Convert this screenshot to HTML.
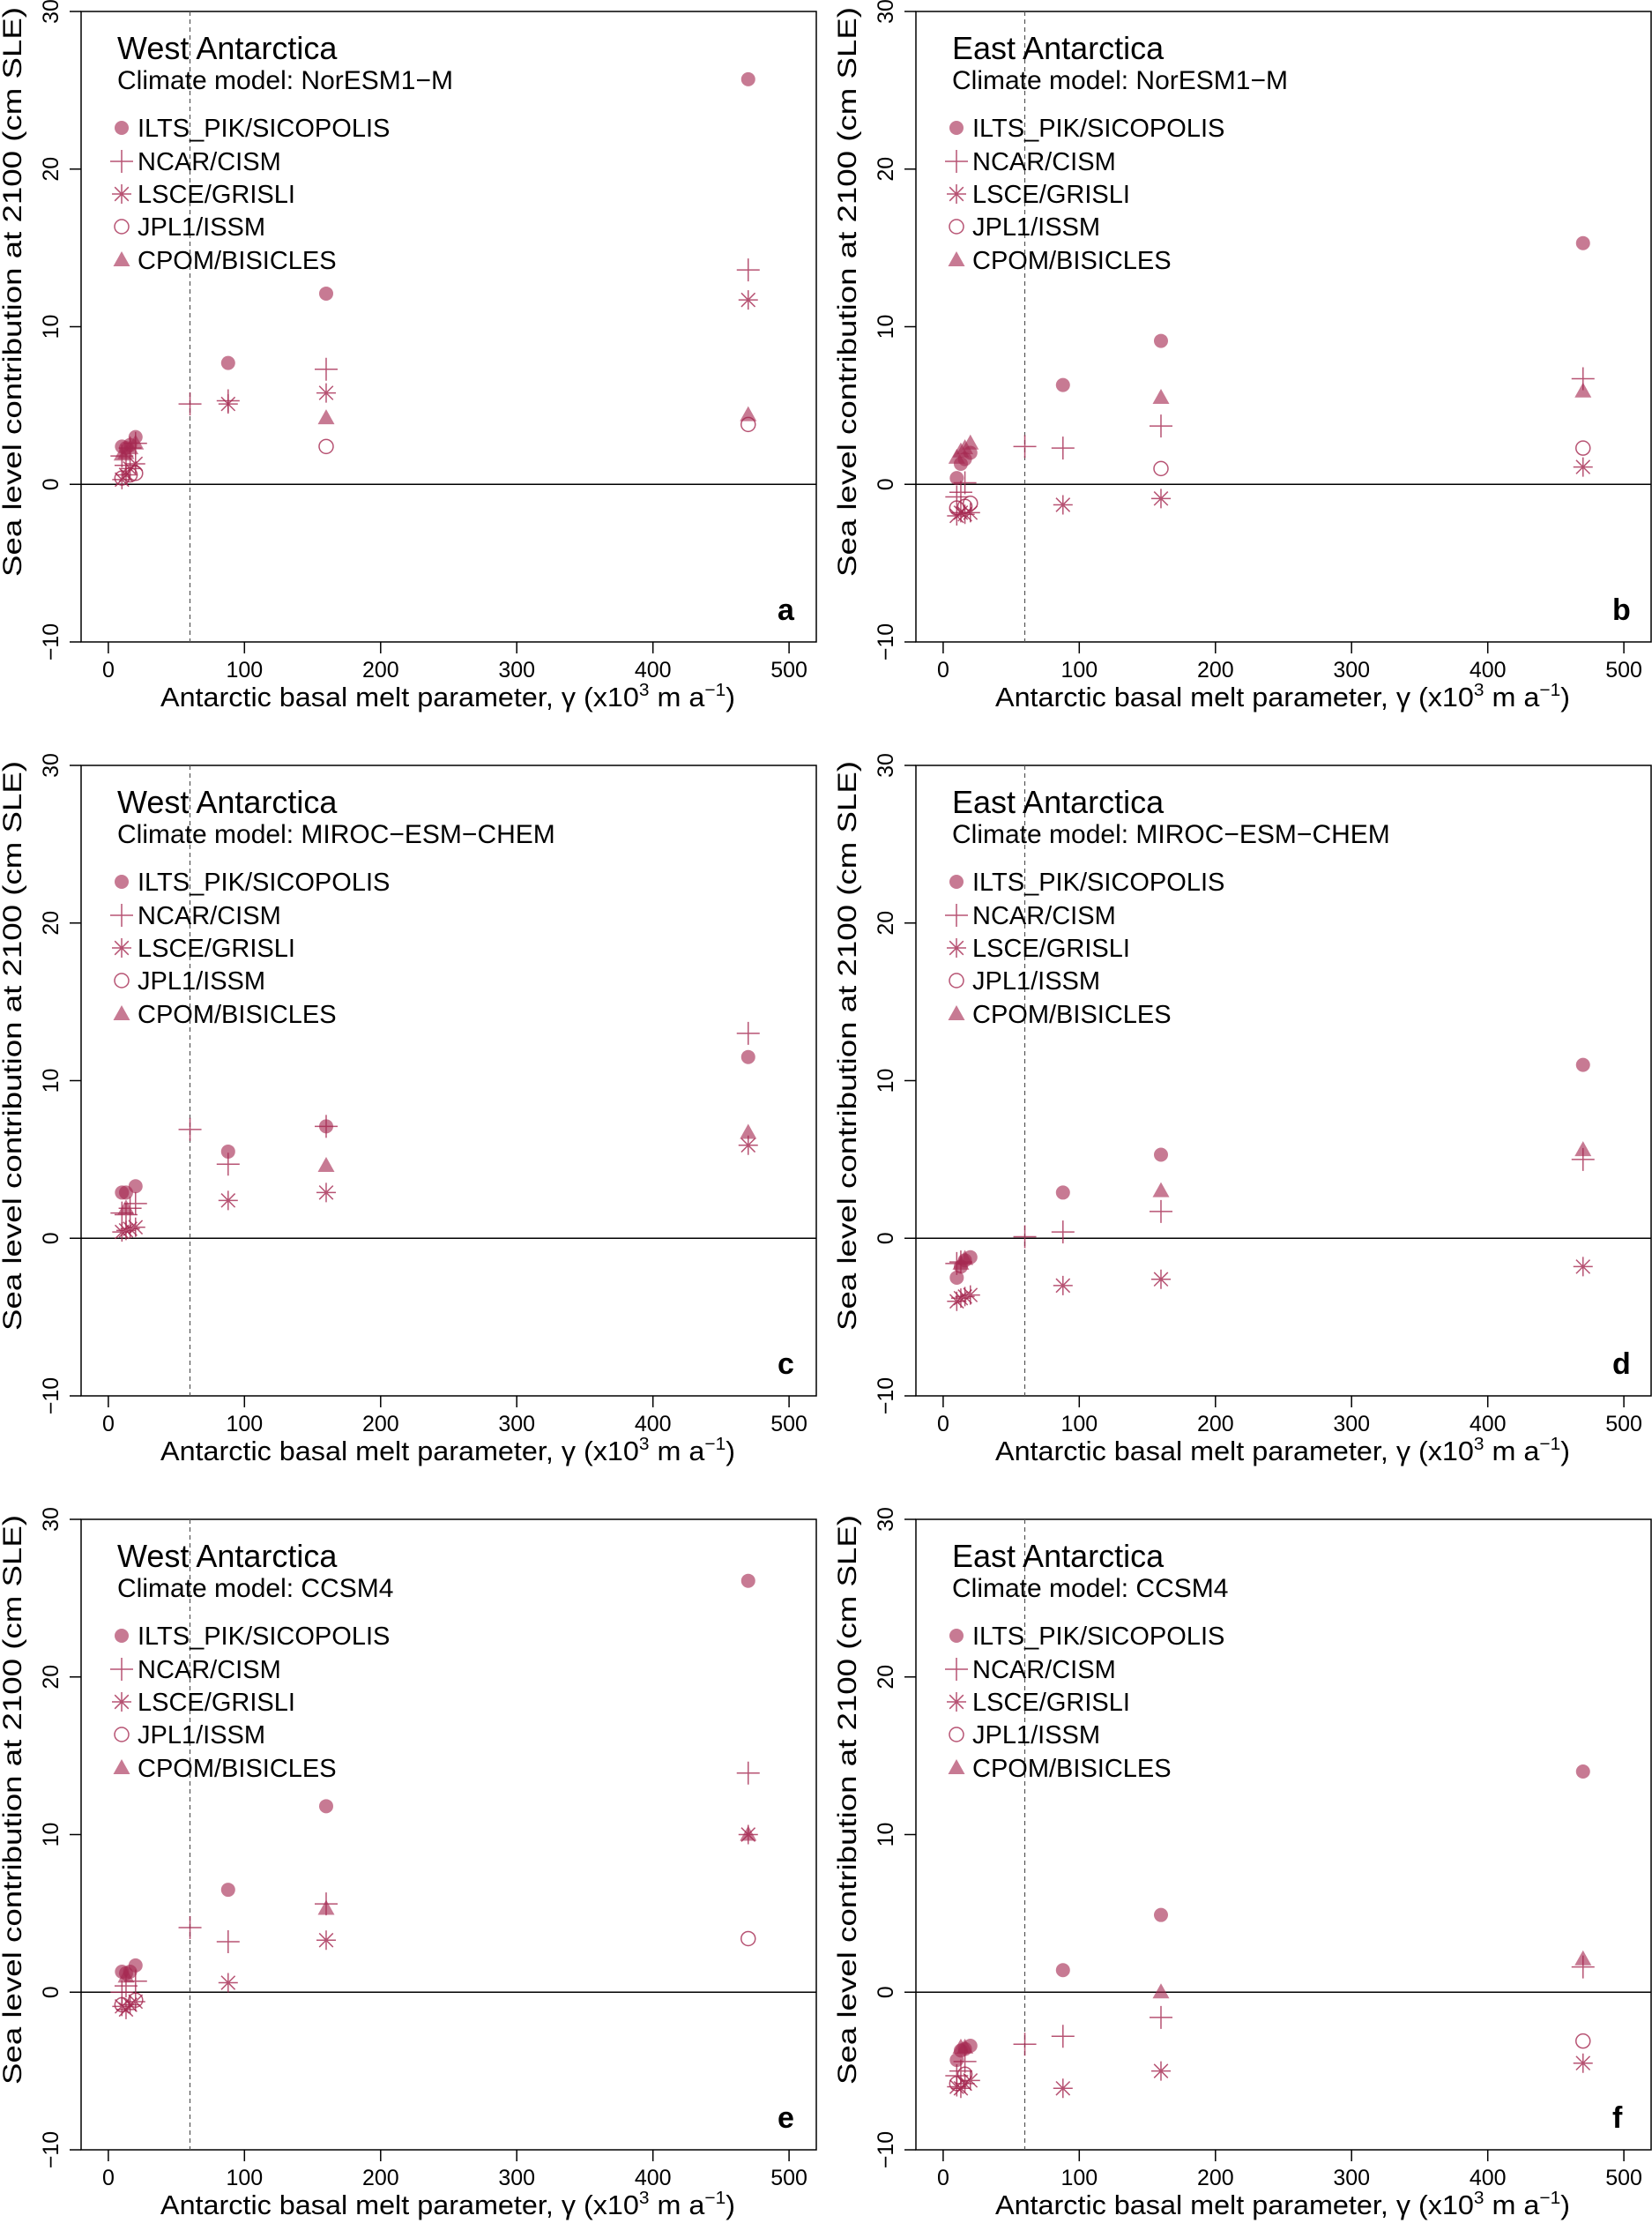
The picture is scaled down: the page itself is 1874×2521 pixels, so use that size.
<!DOCTYPE html>
<html><head><meta charset="utf-8"><style>
html,body{margin:0;padding:0;background:#fff}
svg{display:block}
text{font-family:"Liberation Sans",sans-serif;fill:#000}
</style></head><body>
<svg id="s" width="1874" height="2521" viewBox="0 0 1874 2521" xmlns="http://www.w3.org/2000/svg">
<defs>
<g id="axes">
<rect x="0" y="0" width="834" height="715" fill="none" stroke="#000" stroke-width="1.5"/>
<line x1="0" y1="536.25" x2="834" y2="536.25" stroke="#000" stroke-width="1.5"/>
<line x1="123.5" y1="0" x2="123.5" y2="715" stroke="#555" stroke-width="1.2" stroke-dasharray="5,4"/>
<path d="M30.9 715v13M185.3 715v13M339.8 715v13M494.2 715v13M648.7 715v13M803.1 715v13M0 0h-13M0 178.75h-13M0 357.5h-13M0 536.25h-13M0 715h-13" stroke="#000" stroke-width="1.5"/>
<g font-size="25" text-anchor="middle">
<text x="30.9" y="755">0</text><text x="185.3" y="755">100</text><text x="339.8" y="755">200</text><text x="494.2" y="755">300</text><text x="648.7" y="755">400</text><text x="803.1" y="755">500</text>
<text transform="translate(-26,0) rotate(-90)">30</text>
<text transform="translate(-26,178.75) rotate(-90)">20</text>
<text transform="translate(-26,357.5) rotate(-90)">10</text>
<text transform="translate(-26,536.25) rotate(-90)">0</text>
<text transform="translate(-26,715) rotate(-90)">−10</text>
<text transform="translate(-68,318) rotate(-90)" font-size="30" textLength="646" lengthAdjust="spacingAndGlyphs">Sea level contribution at 2100 (cm SLE)</text>
</g>
<text x="90" y="788" font-size="31" textLength="652" lengthAdjust="spacingAndGlyphs">Antarctic basal melt parameter, γ (x10<tspan dy="-12" font-size="20">3</tspan><tspan dy="12"> m a</tspan><tspan dy="-12" font-size="20">−1</tspan><tspan dy="12">)</tspan></text>
<g font-size="29">
<text x="64" y="142">ILTS_PIK/SICOPOLIS</text>
<text x="64" y="180">NCAR/CISM</text>
<text x="64" y="217">LSCE/GRISLI</text>
<text x="64" y="254">JPL1/ISSM</text>
<text x="64" y="292">CPOM/BISICLES</text>
</g>
</g>
</defs>
<g transform="translate(92,13)"><use href="#axes"/>
<text x="41" y="54" font-size="36">West Antarctica</text>
<text x="41" y="88" font-size="30">Climate model: NorESM1−M</text>
<text x="790" y="690" font-size="34" font-weight="bold">a</text></g>
<g transform="translate(1039,13)"><use href="#axes"/>
<text x="41" y="54" font-size="36">East Antarctica</text>
<text x="41" y="88" font-size="30">Climate model: NorESM1−M</text>
<text x="790" y="690" font-size="34" font-weight="bold">b</text></g>
<g transform="translate(92,868)"><use href="#axes"/>
<text x="41" y="54" font-size="36">West Antarctica</text>
<text x="41" y="88" font-size="30">Climate model: MIROC−ESM−CHEM</text>
<text x="790" y="690" font-size="34" font-weight="bold">c</text></g>
<g transform="translate(1039,868)"><use href="#axes"/>
<text x="41" y="54" font-size="36">East Antarctica</text>
<text x="41" y="88" font-size="30">Climate model: MIROC−ESM−CHEM</text>
<text x="790" y="690" font-size="34" font-weight="bold">d</text></g>
<g transform="translate(92,1723)"><use href="#axes"/>
<text x="41" y="54" font-size="36">West Antarctica</text>
<text x="41" y="88" font-size="30">Climate model: CCSM4</text>
<text x="790" y="690" font-size="34" font-weight="bold">e</text></g>
<g transform="translate(1039,1723)"><use href="#axes"/>
<text x="41" y="54" font-size="36">East Antarctica</text>
<text x="41" y="88" font-size="30">Climate model: CCSM4</text>
<text x="790" y="690" font-size="34" font-weight="bold">f</text></g>
<g id="marks"></g>
</svg>
<script>
var P=[[92,13],[1039,13],[92,868],[1039,868],[92,1723],[1039,1723]];
var D=[
{c:[[10,2.4],[13,2.3],[16,2.5],[20,3.0],[88,7.7],[160,12.1],[470,25.7]],p:[[10,1.8],[13,1.2],[16,2.3],[20,2.6],[60,5.1],[88,5.3],[160,7.3],[470,13.6]],s:[[10,0.3],[13,0.6],[16,1.0],[20,1.3],[88,5.1],[160,5.8],[470,11.7]],o:[[10,0.4],[16,0.6],[20,0.7],[160,2.4],[470,3.8]],t:[[10,1.9],[13,2.0],[16,2.3],[20,2.6],[160,4.2],[470,4.4]]},
{c:[[10,0.4],[13,1.3],[16,1.6],[20,2.0],[88,6.3],[160,9.1],[470,15.3]],p:[[10,-0.8],[13,-0.5],[16,0.1],[60,2.4],[88,2.3],[160,3.7],[470,6.7]],s:[[10,-2.0],[13,-1.8],[16,-1.9],[20,-1.8],[88,-1.3],[160,-0.9],[470,1.1]],o:[[10,-1.5],[16,-1.4],[20,-1.2],[160,1.0],[470,2.3]],t:[[10,1.7],[13,2.1],[16,2.3],[20,2.6],[160,5.5],[470,5.9]]},
{c:[[10,2.9],[13,2.9],[20,3.3],[88,5.5],[160,7.1],[470,11.5]],p:[[10,1.6],[13,1.5],[16,1.9],[20,2.2],[60,6.9],[88,4.7],[160,7.1],[470,13.0]],s:[[10,0.4],[13,0.5],[16,0.6],[20,0.7],[88,2.4],[160,2.9],[470,5.9]],o:[],t:[[13,1.9],[160,4.6],[470,6.7]]},
{c:[[10,-2.5],[13,-1.8],[16,-1.4],[20,-1.2],[88,2.9],[160,5.3],[470,11.0]],p:[[10,-1.6],[13,-1.5],[60,0.1],[88,0.4],[160,1.7],[470,5.0]],s:[[10,-4.0],[13,-3.8],[16,-3.7],[20,-3.6],[88,-3.0],[160,-2.6],[470,-1.8]],o:[],t:[[13,-1.6],[16,-1.3],[160,3.0],[470,5.6]]},
{c:[[10,1.3],[13,1.2],[16,1.3],[20,1.7],[88,6.5],[160,11.8],[470,26.1]],p:[[10,0.0],[13,0.4],[20,0.7],[60,4.1],[88,3.2],[160,5.6],[470,13.9]],s:[[10,-0.9],[13,-1.1],[16,-0.8],[20,-0.6],[88,0.6],[160,3.3],[470,10.0]],o:[[10,-0.8],[20,-0.5],[470,3.4]],t:[[13,1.0],[160,5.3],[470,10.0]]},
{c:[[10,-4.3],[13,-3.7],[16,-3.6],[20,-3.4],[88,1.4],[160,4.9],[470,14.0]],p:[[10,-5.3],[13,-5.0],[16,-4.4],[60,-3.3],[88,-2.8],[160,-1.6],[470,1.6]],s:[[10,-6.0],[13,-6.1],[16,-5.8],[20,-5.6],[88,-6.1],[160,-5.0],[470,-4.5]],o:[[10,-5.8],[16,-5.2],[470,-3.1]],t:[[13,-3.5],[16,-3.5],[160,0.0],[470,2.1]]}];
var F='rgba(165,40,80,0.62)',S='rgba(165,40,80,0.8)';
function mk(k,x,y){
 if(k=='c')return '<circle cx="'+x+'" cy="'+y+'" r="8" fill="'+F+'"/>';
 if(k=='o')return '<circle cx="'+x+'" cy="'+y+'" r="8" fill="none" stroke="'+S+'" stroke-width="1.5"/>';
 if(k=='p')return '<path d="M'+(x-13)+' '+y+'h26M'+x+' '+(y-13)+'v26" stroke="'+S+'" stroke-width="1.5"/>';
 if(k=='s'){var a=11,b=7.8;return '<path d="M'+(x-a)+' '+y+'h'+2*a+'M'+x+' '+(y-a)+'v'+2*a+'M'+(x-b)+' '+(y-b)+'l'+2*b+' '+2*b+'M'+(x-b)+' '+(y+b)+'l'+2*b+' '+(-2*b)+'" stroke="'+S+'" stroke-width="1.5"/>';}
 if(k=='t')return '<path d="M'+x+' '+(y-10)+'L'+(x+9.5)+' '+(y+7)+'L'+(x-9.5)+' '+(y+7)+'Z" fill="'+F+'"/>';
}
var h='';
for(var i=0;i<6;i++){var ox=P[i][0],oy=P[i][1];
 ['c','p','s','o','t'].forEach(function(k,j){
  D[i][k].forEach(function(d){h+=mk(k,ox+(d[0]+20)*1.5444,oy+(30-d[1])*17.875);});
  h+=mk(k,ox+46,oy+[132,170,207,244,282][j]);
 });}
document.getElementById('marks').innerHTML=h;
</script>
</body></html>
